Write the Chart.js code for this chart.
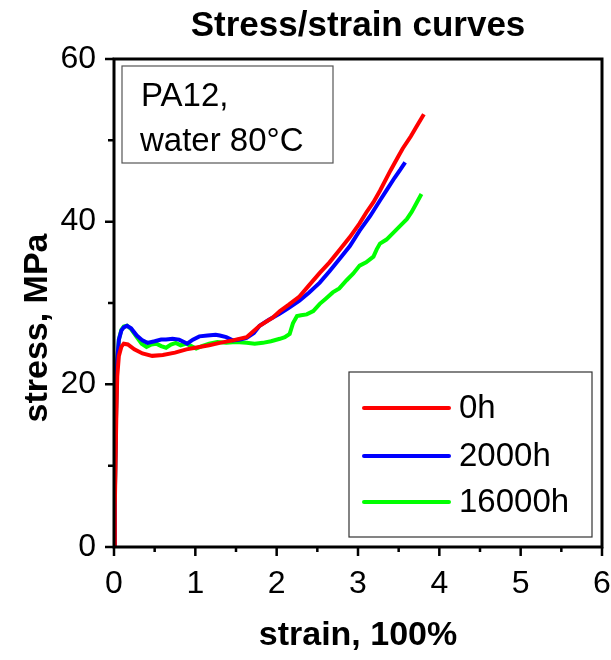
<!DOCTYPE html>
<html>
<head>
<meta charset="utf-8">
<script src="https://cdn.jsdelivr.net/npm/chart.js@4/dist/chart.umd.min.js"></script>
<style>
  html, body { margin: 0; padding: 0; background: #fff; }
  #c { display: block; }
</style>
</head>
<body>
<canvas id="c" width="611" height="660"></canvas>
<script>
// ---- data ----
const chartTitle = "Stress/strain curves";
const xTitle = "strain, 100%";
const yTitle = "stress, MPa";
const noteLines = ["PA12,", "water 80°C"];
const seriesNames = ["0h", "2000h", "16000h"];
const seriesColors = ["#ff0000", "#0000ff", "#00ff00"];
const xTicks = [0, 1, 2, 3, 4, 5, 6];
const yTicks = [0, 20, 40, 60];

const strain0h = [0, 0.01, 0.02, 0.03, 0.04, 0.06, 0.09, 0.12, 0.17, 0.25, 0.35, 0.47, 0.6, 0.75, 0.89, 1.0, 1.17, 1.3, 1.46, 1.63, 1.79, 1.95, 2.04, 2.15, 2.28, 2.4, 2.53, 2.65, 2.78, 2.9, 3.02, 3.1, 3.19, 3.27, 3.4, 3.5, 3.55, 3.65, 3.72, 3.81];
const stress0h = [0, 5, 11, 17, 21, 23.5, 24.6, 25.0, 24.9, 24.3, 23.8, 23.5, 23.6, 23.9, 24.3, 24.5, 24.8, 25.1, 25.4, 25.8, 27.2, 28.2, 29.0, 29.8, 30.8, 32.2, 33.7, 35.0, 36.6, 38.1, 39.8, 41.1, 42.4, 43.8, 46.3, 48.1, 49.0, 50.5, 51.7, 53.2];

const strain2000h = [0, 0.01, 0.02, 0.03, 0.04, 0.06, 0.09, 0.12, 0.16, 0.21, 0.28, 0.35, 0.41, 0.5, 0.58, 0.64, 0.72, 0.8, 0.86, 0.9, 0.97, 1.05, 1.15, 1.25, 1.3, 1.38, 1.46, 1.55, 1.63, 1.72, 1.79, 1.9, 2.04, 2.15, 2.28, 2.4, 2.53, 2.65, 2.78, 2.9, 3.02, 3.15, 3.27, 3.36, 3.45, 3.52, 3.58];
const stress2000h = [0, 6, 13, 19, 23, 25.5, 26.6, 27.0, 27.2, 26.9, 26.0, 25.4, 25.1, 25.3, 25.5, 25.5, 25.6, 25.5, 25.2, 25.0, 25.5, 25.9, 26.0, 26.1, 26.0, 25.8, 25.4, 25.5, 25.7, 26.3, 27.2, 27.9, 28.7, 29.4, 30.3, 31.3, 32.5, 33.9, 35.5, 37.0, 38.9, 40.7, 42.6, 44.0, 45.4, 46.4, 47.3];

const strain16000h = [0, 0.01, 0.02, 0.03, 0.04, 0.06, 0.09, 0.12, 0.16, 0.21, 0.28, 0.34, 0.4, 0.46, 0.52, 0.58, 0.64, 0.7, 0.76, 0.82, 0.89, 0.95, 1.01, 1.08, 1.17, 1.27, 1.38, 1.5, 1.63, 1.73, 1.83, 1.93, 2.04, 2.1, 2.16, 2.2, 2.25, 2.3, 2.37, 2.45, 2.53, 2.6, 2.69, 2.77, 2.86, 2.94, 3.02, 3.1, 3.19, 3.23, 3.27, 3.35, 3.43, 3.5, 3.6, 3.66, 3.72, 3.78];
const stress16000h = [0, 6, 13, 19, 23, 25.5, 26.7, 27.1, 27.2, 26.8, 25.8, 25.0, 24.6, 24.9, 25.0, 24.7, 24.5, 24.9, 25.1, 24.8, 25.0, 24.7, 24.4, 24.7, 25.0, 25.2, 25.1, 25.2, 25.1, 25.0, 25.1, 25.3, 25.6, 25.8, 26.2, 27.5, 28.4, 28.5, 28.6, 29.0, 29.9, 30.5, 31.3, 31.8, 32.8, 33.6, 34.6, 35.0, 35.7, 36.6, 37.3, 37.8, 38.6, 39.3, 40.3, 41.2, 42.3, 43.4];

// ---- build ----
const FONT = '"Liberation Sans", Arial, sans-serif';
const toPts = (xs, ys) => xs.map((x, i) => ({ x: x, y: ys[i] }));
const strains = [strain0h, strain2000h, strain16000h];
const stresses = [stress0h, stress2000h, stress16000h];

const datasets = seriesNames.map((name, i) => ({
  label: name,
  data: toPts(strains[i], stresses[i]),
  borderColor: seriesColors[i],
  backgroundColor: seriesColors[i],
  borderWidth: 4,
  pointRadius: 0,
  showLine: true,
  tension: 0,
  fill: false
}));

const decor = {
  id: 'decor',
  afterDatasetsDraw(chart) {
    const ctx = chart.ctx;
    const a = chart.chartArea;
    const xs = chart.scales.x, ys = chart.scales.y;
    ctx.save();
    // frame
    ctx.strokeStyle = '#000';
    ctx.lineWidth = 3;
    ctx.strokeRect(a.left, a.top, a.right - a.left, a.bottom - a.top);
    // x ticks (major + minor), y ticks (major + minor)
    ctx.lineWidth = 2.5;
    ctx.beginPath();
    for (let v = 0; v <= 6.001; v += 0.5) {
      const p = xs.getPixelForValue(v);
      const len = Math.abs(v - Math.round(v)) < 1e-6 ? 9 : 5;
      ctx.moveTo(p, a.bottom);
      ctx.lineTo(p, a.bottom + len);
    }
    for (let v = 0; v <= 60.001; v += 10) {
      const p = ys.getPixelForValue(v);
      const len = (v % 20 === 0) ? 9 : 6;
      ctx.moveTo(a.left, p);
      ctx.lineTo(a.left - len, p);
    }
    ctx.stroke();

    // title
    ctx.fillStyle = '#000';
    ctx.font = 'bold 35px ' + FONT;
    ctx.textAlign = 'center';
    ctx.textBaseline = 'middle';
    ctx.fillText(chartTitle, (a.left + a.right) / 2, 26);
    // x title
    ctx.font = 'bold 34px ' + FONT;
    ctx.fillText(xTitle, (a.left + a.right) / 2, 636);
    // y title
    ctx.save();
    ctx.translate(38, 328);
    ctx.rotate(-Math.PI / 2);
    ctx.fillText(yTitle, 0, 0);
    ctx.restore();

    // note box
    ctx.strokeStyle = '#555';
    ctx.lineWidth = 1.2;
    ctx.strokeRect(122, 66, 211, 97);
    ctx.fillStyle = '#000';
    ctx.font = '33px ' + FONT;
    ctx.textAlign = 'left';
    ctx.textBaseline = 'alphabetic';
    ctx.fillText(noteLines[0], 141, 106);
    ctx.fillText(noteLines[1], 140, 151);

    // legend
    ctx.strokeStyle = '#333';
    ctx.lineWidth = 1.2;
    ctx.fillStyle = '#fff';
    ctx.fillRect(349, 372, 243, 165);
    ctx.strokeRect(349, 372, 243, 165);
    const rows = [408, 456, 502];
    chart.data.datasets.forEach((ds, i) => {
      ctx.strokeStyle = ds.borderColor;
      ctx.lineWidth = 4;
      ctx.lineCap = 'round';
      ctx.beginPath();
      ctx.moveTo(364, rows[i]);
      ctx.lineTo(449, rows[i]);
      ctx.stroke();
      ctx.fillStyle = '#000';
      ctx.font = '33px ' + FONT;
      ctx.textBaseline = 'middle';
      ctx.fillText(ds.label, 459, rows[i] + 1);
    });
    ctx.restore();
  }
};

new Chart(document.getElementById('c'), {
  type: 'scatter',
  data: { datasets: datasets },
  options: {
    responsive: false,
    animation: false,
    devicePixelRatio: 1,
    layout: { padding: { top: 59, right: 9, left: 0, bottom: 0 } },
    plugins: { legend: { display: false }, title: { display: false }, tooltip: { enabled: false } },
    scales: {
      x: {
        type: 'linear', min: 0, max: 6,
        afterFit: s => { s.height = 113; s.paddingLeft = 0; s.paddingRight = 0; },
        afterBuildTicks: s => { s.ticks = xTicks.map(v => ({ value: v })); },
        ticks: { font: { size: 32, family: FONT }, color: '#000', padding: 10, maxRotation: 0 },
        grid: { drawOnChartArea: false, drawTicks: true, tickLength: 8, tickColor: 'rgba(0,0,0,0)' },
        border: { display: false }
      },
      y: {
        type: 'linear', min: 0, max: 60,
        afterFit: s => { s.width = 114; s.paddingTop = 0; s.paddingBottom = 0; },
        afterBuildTicks: s => { s.ticks = yTicks.map(v => ({ value: v })); },
        ticks: { font: { size: 32, family: FONT }, color: '#000', padding: 8 },
        grid: { drawOnChartArea: false, drawTicks: true, tickLength: 10, tickColor: 'rgba(0,0,0,0)' },
        border: { display: false }
      }
    }
  },
  plugins: [decor]
});
</script>
</body>
</html>
